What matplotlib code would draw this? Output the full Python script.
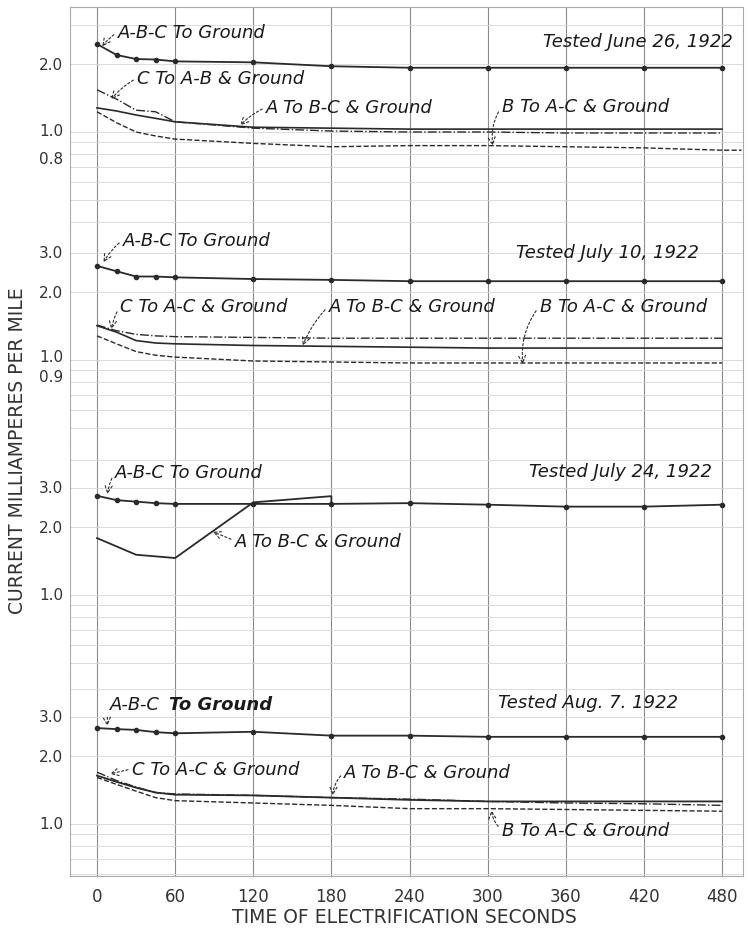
import numpy as np
import matplotlib
matplotlib.use("Agg")
import matplotlib.pyplot as plt
from matplotlib.transforms import ScaledTranslation

# ------------------------------------------------------------------ #
#  Datos (mA por milla vs segundos)
# ------------------------------------------------------------------ #
T = [0, 15, 30, 45, 60, 120, 180, 240, 300, 360, 420, 480]
XTICKS = [0, 60, 120, 180, 240, 300, 360, 420, 480]

# Tested June 26, 1922
jun_abc = [2.46, 2.20, 2.11, 2.10, 2.06, 2.04, 1.96, 1.93, 1.93, 1.93, 1.93, 1.93]
jun_c = [1.54, 1.40, 1.25, 1.23, 1.11, 1.04, 1.01, 1.00, 1.00, 0.99, 0.99, 0.99]
jun_a = [1.28, 1.24, 1.19, 1.15, 1.11, 1.05, 1.04, 1.03, 1.03, 1.03, 1.03, 1.03]
jun_b_t = [0, 15, 30, 45, 60, 120, 180, 240, 300, 360, 420, 480, 495]
jun_b = [1.23, 1.10, 1.00, 0.96, 0.93, 0.89, 0.86, 0.87, 0.87, 0.86, 0.85, 0.83, 0.83]

# Tested July 10, 1922
j10_abc = [2.62, 2.48, 2.35, 2.35, 2.33, 2.29, 2.27, 2.24, 2.24, 2.24, 2.24, 2.24]
j10_c = [1.43, 1.35, 1.30, 1.28, 1.27, 1.26, 1.25, 1.25, 1.25, 1.25, 1.25, 1.25]
j10_a = [1.42, 1.33, 1.22, 1.19, 1.18, 1.16, 1.15, 1.14, 1.13, 1.13, 1.13, 1.13]
j10_b = [1.28, 1.18, 1.09, 1.05, 1.03, 0.99, 0.98, 0.97, 0.97, 0.97, 0.97, 0.97]

# Tested July 24, 1922
j24_abc = [2.76, 2.64, 2.60, 2.56, 2.54, 2.54, 2.54, 2.56, 2.52, 2.47, 2.47, 2.52]
j24_a_t = [0, 30, 60, 120, 180, 180]
j24_a = [1.79, 1.51, 1.46, 2.58, 2.75, 2.54]

# Tested Aug. 7, 1922
aug_abc = [2.67, 2.64, 2.62, 2.56, 2.53, 2.57, 2.47, 2.47, 2.44, 2.44, 2.44, 2.44]
aug_c = [1.70, 1.56, 1.46, 1.38, 1.36, 1.34, 1.31, 1.29, 1.26, 1.24, 1.23, 1.21]
aug_a = [1.64, 1.54, 1.45, 1.38, 1.35, 1.34, 1.31, 1.28, 1.26, 1.26, 1.26, 1.26]
aug_b = [1.61, 1.50, 1.40, 1.31, 1.27, 1.24, 1.21, 1.17, 1.17, 1.16, 1.15, 1.14]

# ------------------------------------------------------------------ #
#  Geometria (pixeles de la imagen original)
# ------------------------------------------------------------------ #
W, H = 746, 929
X0_PX, PX_PER_60 = 97, 78.125
LEFT_PX, RIGHT_PX = 70, 743
DECADE_PX = 225
INK = "#2a2a2a"
TXT = dict(fontsize=13, style="italic", color="#1a1a1a")


def px2sec(px):
    return (px - X0_PX) / PX_PER_60 * 60


fig = plt.figure(figsize=(W / 100, H / 100), dpi=100)


def make_panel(top, bottom, one_px, yticks, shift=None):
    ax = fig.add_axes([LEFT_PX / W, 1 - bottom / H,
                       (RIGHT_PX - LEFT_PX) / W, (bottom - top) / H])
    ax.set_yscale("log")
    ax.set_xlim(px2sec(LEFT_PX), px2sec(RIGHT_PX))
    ax.set_ylim(10 ** ((one_px - bottom) / DECADE_PX),
                10 ** ((one_px - top) / DECADE_PX))
    ax.set_yticks(yticks, minor=False)
    ax.yaxis.set_major_formatter(plt.NullFormatter())
    ax.yaxis.set_minor_formatter(plt.NullFormatter())
    ax.tick_params(axis="y", which="both", length=0)
    # etiquetas a mano: las apretadas (1.0 / 0.9) se separan un poco
    shift = shift or [0] * len(yticks)
    for v, dy in zip(yticks, shift):
        tr = ax.get_yaxis_transform() + ScaledTranslation(
            -7 / 100, -dy / 100, fig.dpi_scale_trans)
        ax.text(0, v, f"{v:.1f}", transform=tr, ha="right", va="center",
                fontsize=11, color="#333")
    ax.set_xticks(XTICKS)
    ax.tick_params(axis="x", length=0)
    ax.grid(True, axis="y", which="both", color="#d6d6d6", lw=0.6)
    ax.grid(True, axis="x", color="#8c8c8c", lw=0.8)
    for s in ax.spines.values():
        s.set_color("#aaaaaa")
        s.set_linewidth(0.8)
    ax.spines["top"].set_visible(False)
    ax.spines["bottom"].set_visible(False)
    return ax


def note(ax, text, xy, xytext, rad=0.2, **kw):
    ax.annotate(text, xy=xy, xytext=xytext, ha="left", va="center",
                arrowprops=dict(arrowstyle="->", color=INK, lw=0.8,
                                linestyle=(0, (2, 2)), relpos=(0, 0.5),
                                connectionstyle=f"arc3,rad={rad}",
                                shrinkA=1, shrinkB=0),
                **{**TXT, **kw})


def abc(ax, vals):
    ax.plot(T, vals, "-", color=INK, lw=1.3, marker="o", ms=3)


# ---- Panel 1 ----
ax1 = make_panel(8, 226, 133, [2.0, 1.0, 0.8], shift=[0, -1, 5])
abc(ax1, jun_abc)
ax1.plot(T, jun_c, "-.", color=INK, lw=1.0)
ax1.plot(T, jun_a, "-", color=INK, lw=1.2)
ax1.plot(jun_b_t, jun_b, "--", color=INK, lw=1.0)
ax1.spines["top"].set_visible(True)
note(ax1, "A-B-C To Ground", (4, 2.40), (16, 2.78), rad=0.1)
note(ax1, "C To A-B & Ground", (11, 1.40), (31, 1.74), rad=0.1)
note(ax1, "A To B-C & Ground", (110, 1.07), (130, 1.29), rad=0.1)
note(ax1, "B To A-C & Ground", (304, 0.87), (311, 1.30), rad=0.2)
ax1.text(488, 2.54, "Tested June 26, 1922", ha="right", va="center", **TXT)

# ---- Panel 2 ----
ax2 = make_panel(226, 446, 361, [3.0, 2.0, 1.0, 0.9], shift=[0, 0, -3, 6])
abc(ax2, j10_abc)
ax2.plot(T, j10_c, "-.", color=INK, lw=1.0)
ax2.plot(T, j10_a, "-", color=INK, lw=1.2)
ax2.plot(T, j10_b, "--", color=INK, lw=1.0)
note(ax2, "A-B-C To Ground", (5, 2.72), (20, 3.42), rad=0.1)
note(ax2, "C To A-C & Ground", (11, 1.37), (18, 1.74), rad=0.1)
note(ax2, "A To B-C & Ground", (158, 1.16), (178, 1.74), rad=0.1)
note(ax2, "B To A-C & Ground", (327, 0.96), (340, 1.74), rad=0.2)
ax2.text(462, 3.02, "Tested July 10, 1922", ha="right", va="center", **TXT)

# ---- Panel 3 ----
ax3 = make_panel(446, 680, 596, [3.0, 2.0, 1.0])
abc(ax3, j24_abc)
ax3.plot(j24_a_t, j24_a, "-", color=INK, lw=1.3)
note(ax3, "A-B-C To Ground", (8, 2.81), (14, 3.53), rad=0.1)
note(ax3, "A To B-C & Ground", (89, 1.91), (106, 1.74), rad=0.0)
ax3.text(472, 3.57, "Tested July 24, 1922", ha="right", va="center", **TXT)

# ---- Panel 4 ----
ax4 = make_panel(680, 877, 825, [3.0, 2.0, 1.0])
abc(ax4, aug_abc)
ax4.plot(T, aug_c, "-.", color=INK, lw=1.0)
ax4.plot(T, aug_a, "-", color=INK, lw=1.3)
ax4.plot(T, aug_b, "--", color=INK, lw=1.0)
ax4.spines["bottom"].set_visible(True)
note(ax4, "A-B-C", (8, 2.73), (10, 3.41), rad=0.1)
ax4.text(55, 3.41, "To Ground", ha="left", va="center",
         **{**TXT, "fontweight": "bold"})
note(ax4, "C To A-C & Ground", (10, 1.67), (27, 1.76), rad=0.0)
note(ax4, "A To B-C & Ground", (181, 1.34), (190, 1.70), rad=0.2)
note(ax4, "B To A-C & Ground", (303, 1.15), (311, 0.94), rad=-0.2)
ax4.text(446, 3.49, "Tested Aug. 7. 1922", ha="right", va="center", **TXT)
ax4.set_xticklabels([str(v) for v in XTICKS], fontsize=12, color="#333")
ax4.tick_params(axis="x", pad=8)

for ax in (ax1, ax2, ax3):
    ax.set_xticklabels([])

fig.text(404 / W, 1 - 918 / H, "TIME OF ELECTRIFICATION SECONDS",
         ha="center", va="center", fontsize=13.5, color="#333")
fig.text(18 / W, 1 - 451 / H, "CURRENT MILLIAMPERES PER MILE",
         rotation=90, ha="center", va="center", fontsize=13.5, color="#333")

fig.savefig("out.png", dpi=100, facecolor="white")
